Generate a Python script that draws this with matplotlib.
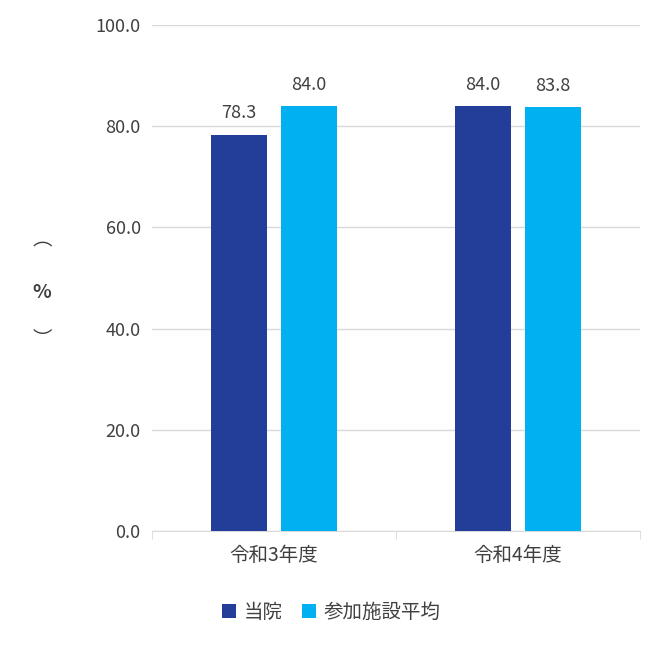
import matplotlib
matplotlib.use("Agg")
import matplotlib.pyplot as plt
import numpy as np

plt.rcParams['font.family'] = ['Noto Sans CJK JP', 'DejaVu Sans']

categories = ["令和3年度", "令和4年度"]
series_names = ["当院", "参加施設平均"]
tobu = [78.3, 84.0]
avg = [84.0, 83.8]
colors = ["#233E99", "#00B0F0"]
tc = "#404040"

fig = plt.figure(figsize=(6.63, 6.48), dpi=100)
ax = fig.add_axes([0.229, 0.181, 0.736, 0.780])
x = np.arange(len(categories))
w = 0.23
off = 0.143
for vals, name, c, o in [(tobu, series_names[0], colors[0], -off), (avg, series_names[1], colors[1], off)]:
    b = ax.bar(x + o, vals, w, color=c, label=name, zorder=3)
    for xi, v in zip(x + o, vals):
        ax.text(xi, v + 2.5, f"{v:.1f}", ha="center", va="bottom", fontsize=13, color=tc)

ax.set_xlim(-0.5, 1.5)
ax.set_ylim(0, 100)
ax.set_yticks(np.arange(0, 101, 20))
ax.set_yticklabels([f"{v:.1f}" for v in np.arange(0, 101, 20)], fontsize=13, color=tc)
ax.set_xticks(x)
ax.set_xticklabels(categories, fontsize=14, color=tc)
ax.set_xticks([-0.5, 0.5, 1.5], minor=True)
ax.tick_params(axis="x", which="major", length=0, pad=10)
ax.tick_params(axis="x", which="minor", length=6, color="#D9D9D9")
ax.tick_params(axis="y", length=0, pad=8)
ax.grid(axis="y", color="#D9D9D9", linewidth=1, zorder=0)
for s in ["top", "right", "left"]:
    ax.spines[s].set_visible(False)
ax.spines["bottom"].set_color("#D9D9D9")

fig.text(42/663, 1-240/648, "︵", ha="center", va="center", fontsize=14, color=tc)
fig.text(42/663, 1-293/648, "%", ha="center", va="center", fontsize=14, color=tc, fontweight="bold")
fig.text(42/663, 1-340/648, "︶", ha="center", va="center", fontsize=14, color=tc)

fig.legend(loc="center", bbox_to_anchor=(0.5, 1-612/648), ncol=2, frameon=False,
           fontsize=14, handlelength=0.7, handleheight=0.7, columnspacing=1.0,
           handletextpad=0.4, labelcolor=tc)
fig.savefig("out.png", dpi=100)
